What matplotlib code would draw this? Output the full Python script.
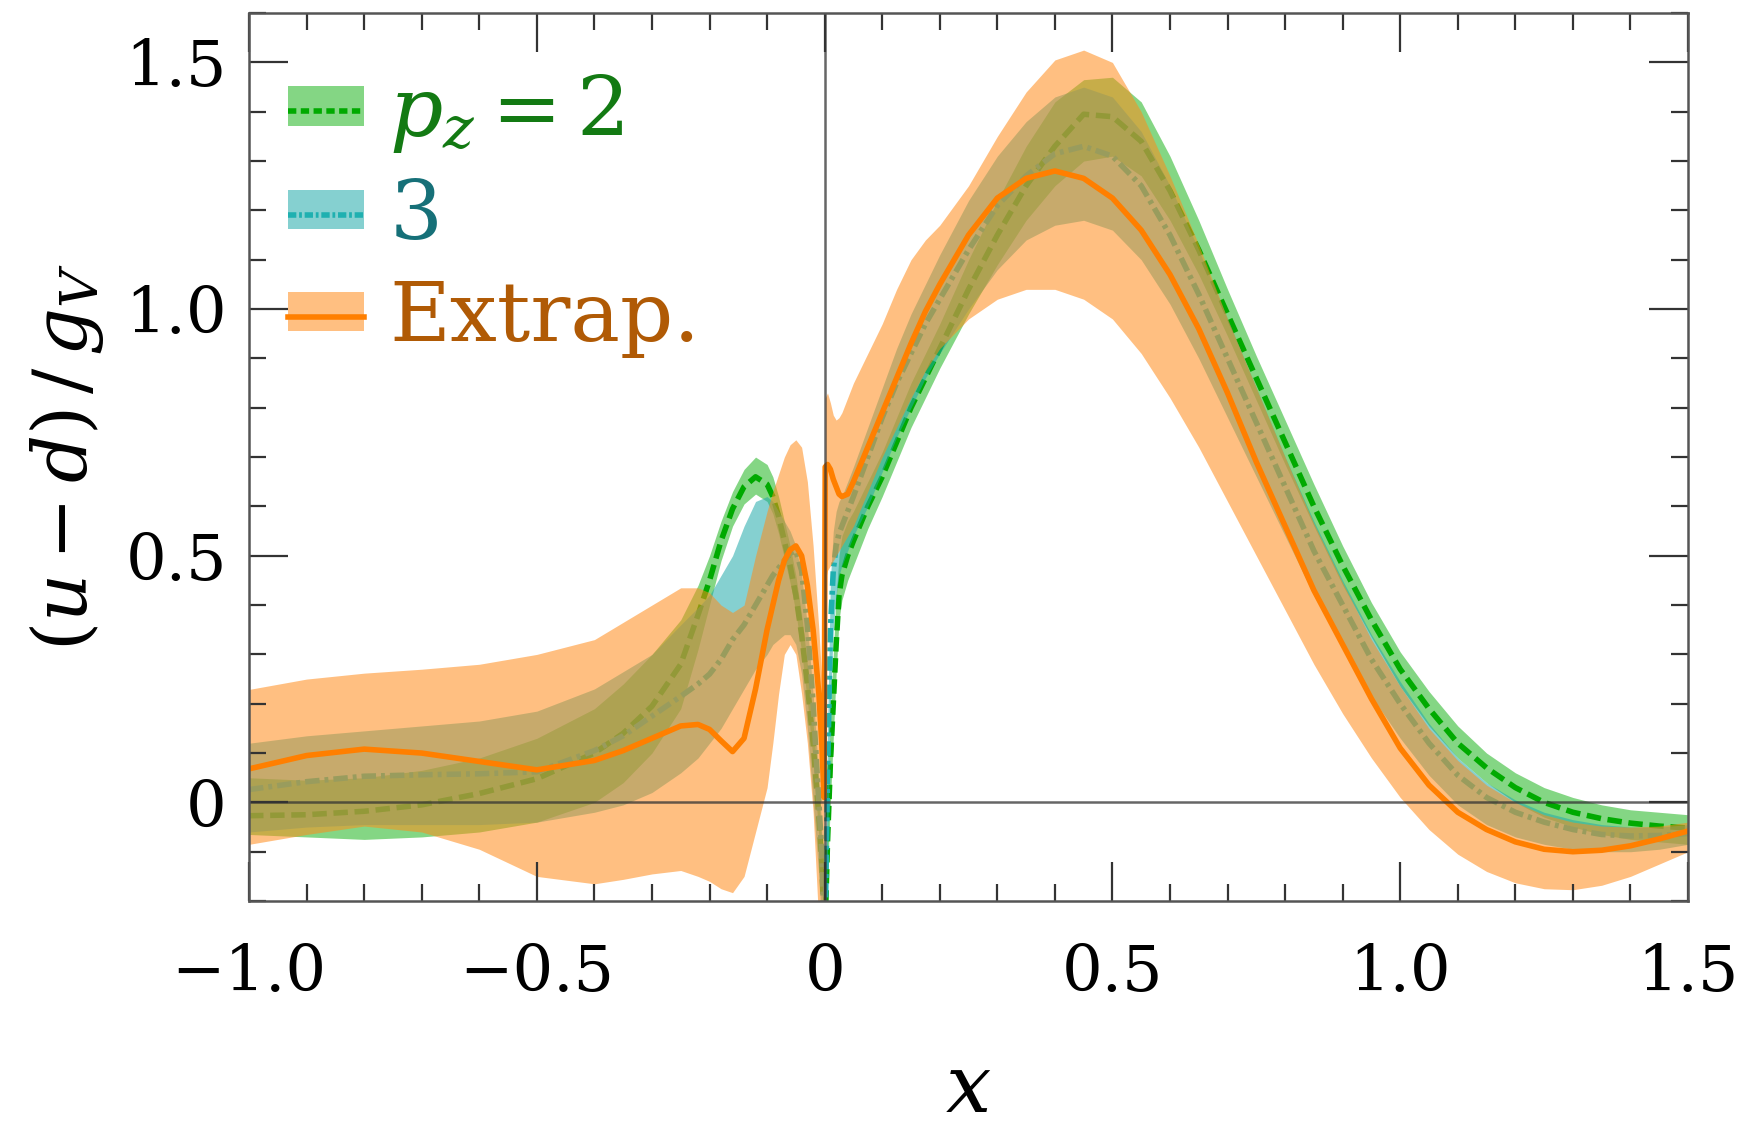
import matplotlib
matplotlib.use("Agg")
import matplotlib.pyplot as plt
from matplotlib.lines import Line2D
from matplotlib.patches import Patch
from matplotlib.ticker import MultipleLocator

plt.rcParams["font.family"] = ["DejaVu Serif"]
plt.rcParams["mathtext.fontset"] = "dejavuserif"

# ---- data ----
# left branch (x < 0)
x_left = [-1.0, -0.9, -0.8, -0.7, -0.6, -0.5, -0.4, -0.35, -0.3, -0.25, -0.22, -0.2,
          -0.18, -0.16, -0.14, -0.12, -0.1, -0.09, -0.08, -0.07, -0.06, -0.05,
          -0.04, -0.03, -0.02, -0.01, -0.005, -0.001]

pz2_left = [-0.027, -0.025, -0.018, -0.005, 0.018, 0.048, 0.10, 0.14, 0.195, 0.28, 0.38, 0.45,
            0.53, 0.595, 0.64, 0.66, 0.645, 0.62, 0.58, 0.53, 0.48, 0.42,
            0.34, 0.24, 0.12, -0.03, -0.12, -0.25]
pz2_left_lo = [-0.065, -0.07, -0.075, -0.07, -0.06, -0.04, 0.0, 0.04, 0.10, 0.19, 0.31, 0.40,
               0.49, 0.56, 0.605, 0.625, 0.61, 0.585, 0.545, 0.495, 0.445, 0.385,
               0.305, 0.205, 0.085, -0.07, -0.16, -0.3]
pz2_left_hi = [0.05, 0.045, 0.05, 0.065, 0.09, 0.13, 0.19, 0.24, 0.30, 0.37, 0.44, 0.50,
               0.57, 0.63, 0.675, 0.70, 0.685, 0.66, 0.62, 0.57, 0.52, 0.46,
               0.38, 0.28, 0.16, 0.01, -0.08, -0.2]

pz3_left = [0.026, 0.042, 0.053, 0.056, 0.058, 0.062, 0.105, 0.135, 0.175, 0.215, 0.24, 0.26,
            0.29, 0.33, 0.36, 0.40, 0.44, 0.46, 0.475, 0.49, 0.505, 0.51,
            0.47, 0.36, 0.2, 0.0, -0.1, -0.25]
pz3_left_lo = [-0.06, -0.05, -0.045, -0.045, -0.045, -0.04, -0.02, -0.005, 0.02, 0.06, 0.09, 0.12,
               0.15, 0.19, 0.23, 0.27, 0.30, 0.32, 0.33, 0.34, 0.34, 0.32,
               0.26, 0.15, 0.0, -0.15, -0.25, -0.3]
pz3_left_hi = [0.12, 0.135, 0.145, 0.155, 0.165, 0.185, 0.23, 0.265, 0.30, 0.36, 0.395, 0.42,
               0.46, 0.50, 0.56, 0.61, 0.62, 0.61, 0.59, 0.57, 0.55, 0.52,
               0.46, 0.36, 0.22, 0.05, -0.05, -0.2]

ext_left = [0.068, 0.095, 0.108, 0.10, 0.083, 0.066, 0.085, 0.105, 0.13, 0.155, 0.158, 0.148,
            0.125, 0.103, 0.13, 0.23, 0.35, 0.40, 0.45, 0.49, 0.512, 0.52,
            0.50, 0.44, 0.35, 0.22, 0.12, 0.01]
ext_left_lo = [-0.085, -0.065, -0.048, -0.06, -0.095, -0.15, -0.165, -0.156, -0.145, -0.138, -0.15, -0.16,
               -0.175, -0.183, -0.15, -0.06, 0.03, 0.12, 0.22, 0.30, 0.32, 0.30,
               0.22, 0.12, -0.02, -0.25, -0.25, -0.25]
ext_left_hi = [0.229, 0.25, 0.262, 0.27, 0.28, 0.30, 0.33, 0.365, 0.40, 0.435, 0.435, 0.425,
               0.40, 0.385, 0.40, 0.50, 0.59, 0.63, 0.665, 0.70, 0.725, 0.735,
               0.72, 0.65, 0.52, 0.35, 0.25, 0.15]

# right branch (x > 0)
x_right = [0.001, 0.005, 0.01, 0.015, 0.02, 0.025, 0.03, 0.04, 0.05, 0.075, 0.1, 0.125,
           0.15, 0.175, 0.2, 0.25, 0.3, 0.35, 0.4, 0.45, 0.5, 0.55, 0.6, 0.65, 0.7,
           0.75, 0.8, 0.85, 0.9, 0.95, 1.0, 1.05, 1.1, 1.15, 1.2, 1.25, 1.3, 1.35,
           1.4, 1.45, 1.5]

pz2_right = [-0.25, -0.08, 0.08, 0.2, 0.32, 0.42, 0.46, 0.50, 0.53, 0.60, 0.66, 0.73,
             0.80, 0.86, 0.92, 1.04, 1.15, 1.25, 1.33, 1.395, 1.39, 1.34, 1.24, 1.12, 0.99,
             0.86, 0.73, 0.60, 0.48, 0.37, 0.27, 0.19, 0.12, 0.07, 0.03, 0.0, -0.02, -0.033,
             -0.042, -0.048, -0.052]
pz2_right_lo = [-0.3, -0.15, 0.0, 0.13, 0.26, 0.37, 0.41, 0.45, 0.48, 0.555, 0.62, 0.69,
                0.76, 0.82, 0.88, 0.99, 1.09, 1.18, 1.25, 1.30, 1.31, 1.27, 1.18, 1.07, 0.945,
                0.815, 0.685, 0.56, 0.44, 0.335, 0.235, 0.155, 0.09, 0.04, 0.0, -0.03, -0.05, -0.065,
                -0.075, -0.08, -0.085]
pz2_right_hi = [-0.2, 0.0, 0.18, 0.3, 0.42, 0.50, 0.54, 0.57, 0.59, 0.65, 0.71, 0.78,
                0.85, 0.91, 0.97, 1.10, 1.22, 1.33, 1.42, 1.465, 1.47, 1.42, 1.31, 1.18, 1.04,
                0.905, 0.775, 0.645, 0.52, 0.405, 0.305, 0.225, 0.155, 0.10, 0.06, 0.03, 0.01, -0.005,
                -0.015, -0.02, -0.025]

pz3_right = [-0.25, 0.05, 0.35, 0.47, 0.52, 0.545, 0.56, 0.59, 0.62, 0.70, 0.78, 0.85,
             0.91, 0.97, 1.02, 1.12, 1.21, 1.27, 1.315, 1.33, 1.31, 1.25, 1.15, 1.03, 0.90,
             0.77, 0.64, 0.51, 0.40, 0.29, 0.20, 0.12, 0.055, 0.01, -0.02, -0.04, -0.055, -0.065,
             -0.068, -0.067, -0.063]
pz3_right_lo = [-0.3, -0.1, 0.2, 0.35, 0.42, 0.46, 0.48, 0.51, 0.54, 0.60, 0.67, 0.74,
                0.80, 0.86, 0.91, 1.0, 1.08, 1.14, 1.17, 1.18, 1.16, 1.10, 1.01, 0.90, 0.78,
                0.66, 0.54, 0.42, 0.315, 0.215, 0.13, 0.055, -0.005, -0.045, -0.07, -0.085, -0.095, -0.1,
                -0.1, -0.095, -0.085]
pz3_right_hi = [-0.2, 0.15, 0.45, 0.55, 0.59, 0.61, 0.62, 0.65, 0.68, 0.76, 0.84, 0.92,
                0.99, 1.05, 1.11, 1.22, 1.31, 1.38, 1.43, 1.45, 1.43, 1.36, 1.25, 1.12, 0.98,
                0.84, 0.70, 0.57, 0.45, 0.34, 0.245, 0.16, 0.09, 0.04, 0.005, -0.02, -0.035, -0.045,
                -0.05, -0.05, -0.045]

ext_right = [0.68, 0.685, 0.675, 0.655, 0.64, 0.625, 0.62, 0.625, 0.65, 0.72, 0.79, 0.86,
             0.93, 0.995, 1.05, 1.15, 1.225, 1.265, 1.28, 1.265, 1.225, 1.16, 1.07, 0.96, 0.83,
             0.69, 0.56, 0.43, 0.32, 0.21, 0.11, 0.035, -0.02, -0.055, -0.08, -0.095, -0.1, -0.097,
             -0.088, -0.074, -0.058]
ext_right_lo = [0.45, 0.47, 0.48, 0.49, 0.50, 0.51, 0.52, 0.54, 0.56, 0.63, 0.70, 0.76,
                0.82, 0.875, 0.92, 0.98, 1.02, 1.04, 1.04, 1.02, 0.98, 0.91, 0.82, 0.72, 0.61,
                0.50, 0.39, 0.28, 0.18, 0.09, 0.01, -0.055, -0.105, -0.14, -0.163, -0.175, -0.177, -0.168,
                -0.15, -0.125, -0.1]
ext_right_hi = [0.82, 0.83, 0.81, 0.785, 0.775, 0.78, 0.79, 0.82, 0.85, 0.91, 0.97, 1.04,
                1.10, 1.14, 1.17, 1.25, 1.35, 1.44, 1.505, 1.525, 1.50, 1.40, 1.27, 1.13, 0.98,
                0.84, 0.70, 0.565, 0.445, 0.33, 0.235, 0.15, 0.085, 0.035, 0.0, -0.025, -0.04, -0.048,
                -0.05, -0.048, -0.04]

x_ticks = [-1.0, -0.5, 0.0, 0.5, 1.0, 1.5]
x_tick_labels = ["\u22121.0", "\u22120.5", "0", "0.5", "1.0", "1.5"]
y_ticks = [0.0, 0.5, 1.0, 1.5]
y_tick_labels = ["0", "0.5", "1.0", "1.5"]
labels = [r"$p_z = 2$", "3", "Extrap."]

# ---- styles ----
c2_band, c2_line, c2_text = "#33bb33", "#00aa00", "#137a13"
c3_band, c3_line, c3_text = "#22aaaa", "#1fb0b0", "#167078"
ce_band, ce_line, ce_text = "#ff8c1a", "#ff7f00", "#b05a05"
a2, a3, ae = 0.6, 0.55, 0.55
lw = 4.0
dash2 = (0, (2.6, 1.2))
dash3 = (0, (2.6, 0.9, 0.7, 0.9))

fig = plt.figure(figsize=(17.44, 11.39), dpi=100)
ax = fig.add_axes([0.1428, 0.2089, 0.8251, 0.7796])

# drawing order: pz=2, pz=3, extrapolation on top (muting the lines below)
for xs, lo, hi in [(x_left, pz2_left_lo, pz2_left_hi), (x_right, pz2_right_lo, pz2_right_hi)]:
    ax.fill_between(xs, lo, hi, color=c2_band, alpha=a2, lw=0, zorder=1.0)
for xs, ys in [(x_left, pz2_left), (x_right, pz2_right)]:
    ax.plot(xs, ys, color=c2_line, lw=lw, ls=dash2, zorder=1.1)

for xs, lo, hi in [(x_left, pz3_left_lo, pz3_left_hi), (x_right, pz3_right_lo, pz3_right_hi)]:
    ax.fill_between(xs, lo, hi, color=c3_band, alpha=a3, lw=0, zorder=1.2)
for xs, ys in [(x_left, pz3_left), (x_right, pz3_right)]:
    ax.plot(xs, ys, color=c3_line, lw=lw, ls=dash3, zorder=1.3)

for xs, lo, hi in [(x_left, ext_left_lo, ext_left_hi), (x_right, ext_right_lo, ext_right_hi)]:
    ax.fill_between(xs, lo, hi, color=ce_band, alpha=ae, lw=0, zorder=1.4)
ax.plot(x_left + x_right, ext_left + ext_right, color=ce_line, lw=lw, zorder=1.5)

ax.axhline(0, color="#333333", lw=1.8, alpha=0.75, zorder=1.6)
ax.axvline(0, color="#333333", lw=1.8, alpha=0.75, zorder=1.6)

ax.set_xlim(-1.0, 1.5)
ax.set_ylim(-0.2, 1.6)
ax.set_xticks(x_ticks)
ax.set_xticklabels(x_tick_labels)
ax.set_yticks(y_ticks)
ax.set_yticklabels(y_tick_labels)
ax.xaxis.set_minor_locator(MultipleLocator(0.1))
ax.yaxis.set_minor_locator(MultipleLocator(0.1))
ax.tick_params(which="both", direction="in", top=True, right=True,
               color="#333333", width=1.6, labelsize=46)
ax.tick_params(which="major", length=28)
ax.tick_params(which="minor", length=12)
ax.tick_params(axis="x", pad=30)
ax.tick_params(axis="y", pad=16)
for s in ax.spines.values():
    s.set_color("#555555")
    s.set_linewidth(1.8)

ax.set_xlabel(r"$x$", fontsize=58, labelpad=34)
ax.set_ylabel(r"$(u-d)\,/\,g_V$", fontsize=54, labelpad=14)

handles = [
    (Patch(facecolor=c2_band, alpha=a2, lw=0), Line2D([], [], color=c2_line, lw=lw, ls=(0, (1.5, 0.8)))),
    (Patch(facecolor=c3_band, alpha=a3, lw=0), Line2D([], [], color=c3_line, lw=lw, ls=(0, (1.5, 0.5, 0.5, 0.5)))),
    (Patch(facecolor=ce_band, alpha=ae, lw=0), Line2D([], [], color=ce_line, lw=lw)),
]
leg = ax.legend(handles, labels, loc="upper left", bbox_to_anchor=(-0.008, 0.99),
                frameon=False, fontsize=60, handlelength=0.92, handleheight=0.35,
                handletextpad=0.3, labelspacing=0.26, borderaxespad=0.2)
for t, c in zip(leg.get_texts(), [c2_text, c3_text, ce_text]):
    t.set_color(c)

fig.savefig("out.png", dpi=100)
